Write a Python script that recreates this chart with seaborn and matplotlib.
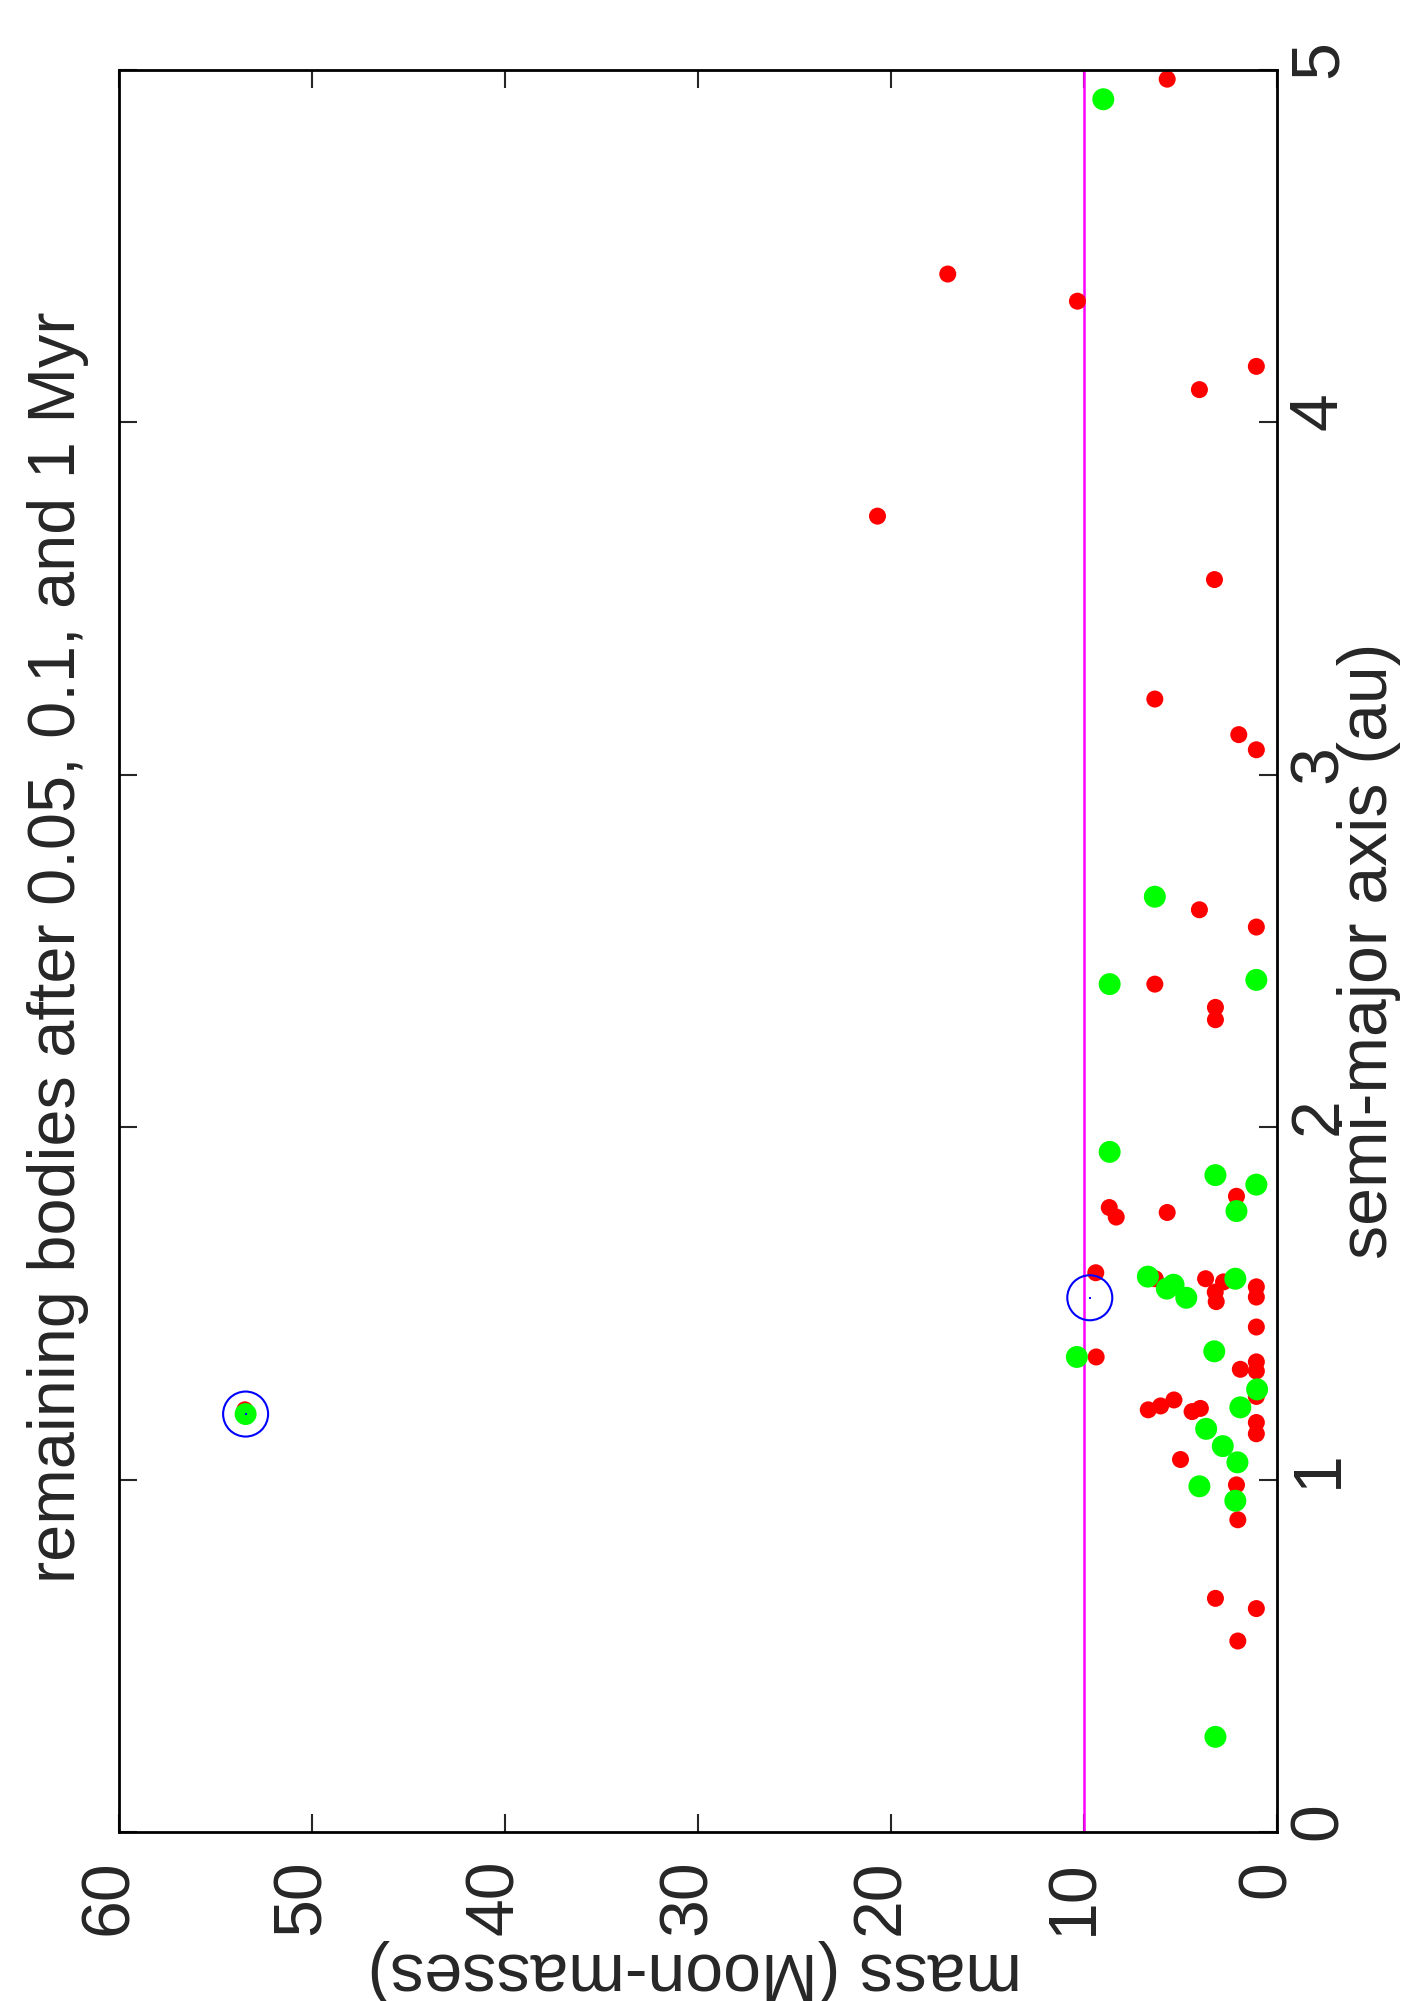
import pandas as pd
import seaborn as sns
import matplotlib.pyplot as plt
from matplotlib.transforms import ScaledTranslation

# bodies after 0.05 Myr (mass in Moon masses, semi-major axis in au)
mass_005 = [5.69, 17.06, 10.34, 1.07, 4.02, 20.7, 3.24, 6.33, 1.98, 1.07,
            4.02, 1.07, 6.33, 3.19, 3.19, 2.10, 8.69, 8.33, 5.69, 9.39,
            6.31, 3.70, 3.20, 3.15, 2.77, 2.10, 1.07, 1.07, 1.07, 9.37,
            1.90, 1.07, 1.07, 1.07, 6.67, 6.03, 5.34, 4.40, 3.97, 1.07,
            1.07, 5.00, 2.10, 2.03, 3.19, 1.07, 2.03, 53.48]
a_005 = [4.974, 4.421, 4.344, 4.159, 4.093, 3.734, 3.554, 3.215, 3.114, 3.071,
         2.617, 2.568, 2.406, 2.340, 2.305, 1.804, 1.772, 1.745, 1.758, 1.587,
         1.570, 1.570, 1.532, 1.505, 1.561, 1.575, 1.547, 1.518, 1.433, 1.348,
         1.313, 1.334, 1.308, 1.236, 1.198, 1.209, 1.226, 1.193, 1.202, 1.162,
         1.130, 1.057, 0.985, 0.886, 0.663, 0.634, 0.542, 1.198]

# bodies after 0.1 Myr
mass_01 = [9.0, 6.33, 8.67, 1.07, 8.67, 3.19, 1.07, 2.10, 6.69, 5.71,
           5.36, 4.70, 2.16, 10.37, 3.25, 1.03, 1.90, 3.67, 2.81, 2.05,
           4.02, 2.16, 3.19, 53.44]
a_01 = [4.917, 2.654, 2.406, 2.418, 1.930, 1.864, 1.837, 1.762, 1.576, 1.542,
        1.553, 1.516, 1.570, 1.348, 1.364, 1.256, 1.205, 1.144, 1.095, 1.049,
        0.981, 0.940, 0.270, 1.186]

# bodies after 1 Myr
mass_1 = [53.44, 9.70]
a_1 = [1.186, 1.516]

mars_mass = 10.0

early = pd.DataFrame({
    'mass': mass_005 + mass_01,
    'a': a_005 + a_01,
    'time': ['0.05 Myr'] * len(mass_005) + ['0.1 Myr'] * len(mass_01),
})
late = pd.DataFrame({'mass': mass_1, 'a': a_1})

sns.set_style('white')
plt.rcParams['font.family'] = ['Liberation Sans', 'DejaVu Sans']

fig = plt.figure(figsize=(14.01, 20.01), dpi=100)
ax = fig.add_axes([119 / 1401, 169 / 2001, 1158 / 1401, 1762 / 2001])

ax.axvline(mars_mass, color='#ff00ff', lw=1.8, zorder=1)

sns.scatterplot(data=early, x='mass', y='a', hue='time',
                palette={'0.05 Myr': '#ff0000', '0.1 Myr': '#00ff00'},
                size='time', sizes={'0.05 Myr': 150, '0.1 Myr': 250},
                linewidth=0, legend=False, ax=ax, zorder=2)
sns.scatterplot(data=late, x='mass', y='a', marker='o', s=1050,
                facecolors='none', edgecolor='#0000ff', linewidth=1.5,
                legend=False, ax=ax, zorder=3)
sns.scatterplot(data=late, x='mass', y='a', marker='s', s=3,
                color='#0000ff', linewidth=0, legend=False, ax=ax, zorder=4)

ax.set_xlim(60, 0)
ax.set_ylim(0, 5)
ax.set_xticks(range(0, 61, 10))
ax.set_yticks(range(0, 6))

for side in ax.spines.values():
    side.set_linewidth(2)
    side.set_color('black')

ax.tick_params(direction='in', length=13, width=1.5, top=True, right=True,
               bottom=True, left=True, labelleft=False, labelright=True,
               labelsize=49)
ax.tick_params(axis='x', pad=20, labelrotation=90)
ax.tick_params(axis='y', pad=7, labelrotation=90)

for lab in ax.get_xticklabels():
    lab.set_transform(lab.get_transform() + ScaledTranslation(-0.10, 0, fig.dpi_scale_trans))
for lab in ax.get_yticklabels():
    lab.set_verticalalignment('center')
    lab.set_transform(lab.get_transform() + ScaledTranslation(0, 0.11, fig.dpi_scale_trans))

ax.set_xlabel('mass (Moon-masses)', fontsize=49, rotation=180, ha='center', va='center')
ax.xaxis.set_label_coords((695 - 119) / 1158, -(1971 - 1832) / 1762)
ax.set_ylabel('semi-major axis (au)', fontsize=49)
ax.yaxis.set_label_position('right')
ax.yaxis.set_label_coords((1369 - 119) / 1158, 0.5)
ax.yaxis.label.set(rotation=90, ha='center', va='center', rotation_mode='default')

fig.text(58 / 1401, 1 - 947 / 2001, 'remaining bodies after 0.05, 0.1, and 1 Myr',
         fontsize=48, rotation=90, ha='center', va='center')

fig.savefig('out.png', dpi=100)
